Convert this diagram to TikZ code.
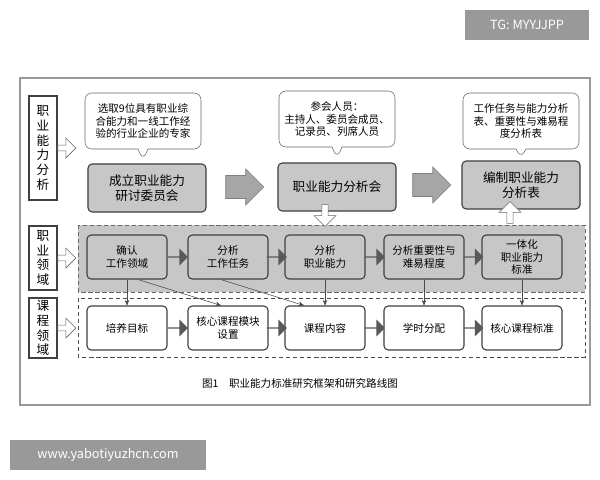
\documentclass[tikz,border=0pt]{standalone}
\usepackage{fontspec}
\setmainfont{Noto Sans CJK SC}
\usetikzlibrary{arrows,calc,shapes.arrows,shapes.callouts}

\begin{document}
\begin{tikzpicture}[x=0.025cm,y=-0.025cm,>=stealth',font=\fontsize{7.5}{9}\selectfont,
  step box/.style={draw=black!75,thick,rounded corners=3pt,minimum height=1.1cm,align=center,inner sep=1pt},
  gray box/.style={step box,fill=black!22,minimum width=2.95cm,minimum height=1.2cm,font=\fontsize{9}{11}\selectfont},
  row box/.style={step box,fill=black!22,minimum width=2cm},
  course box/.style={step box,fill=white,minimum width=2cm},
  talk/.style={rectangle callout,draw=black!60,fill=white,rounded corners=5pt,align=center,minimum width=2.9cm,minimum height=1.4cm,inner sep=2pt},
  side label/.style={draw=black!75,thick,fill=white,align=center,minimum width=0.7cm,inner sep=1pt,font=\fontsize{9}{10.5}\selectfont},
  hollow/.style={single arrow,draw=black!60,fill=white,minimum height=0.55cm,minimum width=0.55cm,single arrow head extend=3pt,inner sep=1pt},
  solid/.style={single arrow,draw=black!50,fill=black!35,minimum height=0.95cm,minimum width=0.9cm,single arrow head extend=2pt},
  dark/.style={single arrow,fill=black!65,minimum height=0.5cm,minimum width=0.42cm,single arrow head extend=2.5pt,inner sep=0pt},
  link/.style={->,black!70,thin}]

\fill[white] (0,0) rectangle (600,480);
\useasboundingbox (0,0) rectangle (600,480);

% watermarks
\node[fill=black!40,text=white,minimum width=3.1cm,minimum height=0.75cm,font=\fontsize{9}{10}\selectfont] (tg) at (527,25) {TG: MYYJJPP};
\node[fill=black!40,text=white,minimum width=4.9cm,minimum height=0.75cm,font=\fontsize{9}{10}\selectfont] (web) at (108,455) {www.yabotiyuzhcn.com};

% outer frame
\draw[black!40,line width=2pt] (20,78) rectangle (590,405);
\fill[black!22] (78,225) rectangle (585,292);
\draw[black!60,densely dashed] (78,225) rectangle (585,292);
\draw[black!70,densely dashed] (78,298) rectangle (585,357);

% row 1
\node[side label,minimum height=2.6cm] (l1) at (43,148) {职\\业\\能\\力\\分\\析};
\node[talk,callout absolute pointer={(143,160)}] (c1) at (143,121) {选取9位具有职业综\\合能力和一线工作经\\验的行业企业的专家};
\node[talk,callout absolute pointer={(337,158)}] (c2) at (337,119) {参会人员：\\主持人、委员会成员、\\记录员、列席人员};
\node[talk,callout absolute pointer={(521,158)}] (c3) at (521,121) {工作任务与能力分析\\表、重要性与难易程\\度分析表};
\node[gray box] (a1) at (147,188) {成立职业能力\\研讨委员会};
\node[gray box] (a2) at (337,187) {职业能力分析会};
\node[gray box] (a3) at (521,185) {编制职业能力\\分析表};
\node[solid] (s1) at (239,187) {};
\node[solid] (s2) at (426,185) {};
\node[hollow,rotate=-90] (d1) at (325,214) {};
\node[hollow,rotate=90] (u1) at (510,214) {};

% row 2
\node[side label,minimum height=1.6cm] (l2) at (43,258) {职\\业\\领\\域};
\node[row box] (b1) at (127,257) {确认\\工作领域};
\node[row box] (b2) at (228,257) {分析\\工作任务};
\node[row box] (b3) at (325,257) {分析\\职业能力};
\node[row box] (b4) at (424,257) {分析重要性与\\难易程度};
\node[row box] (b5) at (522,257) {一体化\\职业能力\\标准};
\foreach \i/\j in {b1/b2,b2/b3,b3/b4,b4/b5}
  \node[dark] at ($(\i.east)!0.5!(\j.west)$) {};

% row 3
\node[side label,minimum height=1.5cm] (l3) at (43,328) {课\\程\\领\\域};
\node[course box] (k1) at (127,328) {培养目标};
\node[course box] (k2) at (228,328) {核心课程模块\\设置};
\node[course box] (k3) at (325,328) {课程内容};
\node[course box] (k4) at (424,328) {学时分配};
\node[course box] (k5) at (522,328) {核心课程标准};
\foreach \i/\j in {k1/k2,k2/k3,k3/k4,k4/k5}
  \node[dark] at ($(\i.east)!0.5!(\j.west)$) {};

% side arrows
\foreach \l in {l1,l2,l3}
  \node[hollow,minimum height=0.45cm,minimum width=0.5cm,anchor=tail] at (\l.east) {};

% links
\draw[link] (b1.south) -- (k1.north);
\draw[link] ([xshift=8pt]b1.south) -- ([xshift=-5pt]k2.north);
\draw[link] ([xshift=-5pt]b2.south) -- ([xshift=-15pt]k3.north);
\draw[link] (b3.south) -- (k3.north);
\draw[link] (b4.south) -- (k4.north);
\draw[link] (b5.south) -- (k5.north);

\node (cap) at (300,383) {图1\quad 职业能力标准研究框架和研究路线图};
\end{tikzpicture}
\end{document}
